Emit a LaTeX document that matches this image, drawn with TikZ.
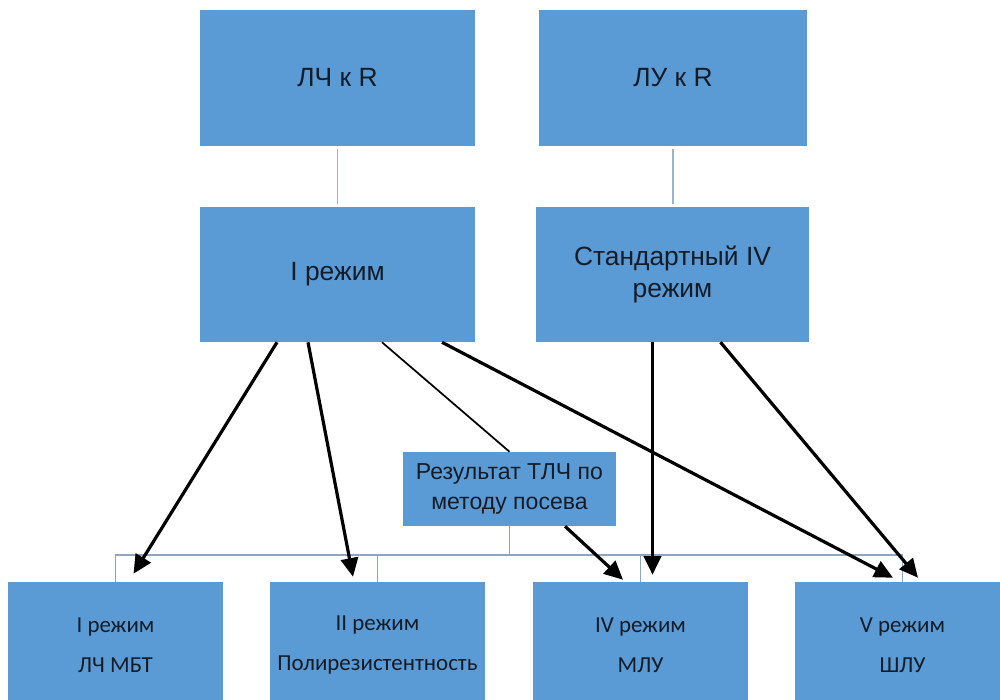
\documentclass[tikz,border=0pt]{standalone}
\usepackage{fontspec}
\setmainfont{Liberation Sans}
\newfontfamily\calib{Carlito}
\usetikzlibrary{arrows.meta,calc}
\definecolor{boxblue}{HTML}{5B9BD5}
\definecolor{txt}{HTML}{141C28}
\definecolor{conn}{HTML}{8DA5BE}
\begin{document}
\begin{tikzpicture}[x=0.75pt,y=-0.75pt,
  bbox/.style={fill=boxblue,draw=none,inner sep=0pt,text=txt,align=center},
  topbox/.style={bbox,font=\fontsize{19.8}{23.5}\selectfont},
  botbox/.style={bbox,minimum width=161.25pt,minimum height=94.5pt,font=\calib\fontsize{17.2}{30}\selectfont},
  tree/.style={draw=conn,line width=1.2pt},
  arr/.style={draw=black,line width=2.4pt,-{Triangle[length=14pt,width=13pt]}},
  thinln/.style={draw=black,line width=1.3pt}]
\useasboundingbox[fill=white] (0,0) rectangle (1000,700);
% top row
\node[topbox,minimum width=206.25pt,minimum height=102pt] (A) at (337.5,78) {ЛЧ к R};
\node[topbox,minimum width=201pt,minimum height=102pt] (B) at (673,78) {ЛУ к R};
% second row
\node[topbox,minimum width=206.25pt,minimum height=101.25pt] (C) at (337.5,274.5) {I режим};
\node[topbox,minimum width=204.75pt,minimum height=101.25pt] (D) at (672.5,274.5) {Стандартный IV\\режим};
% result box
\node[bbox,minimum width=159.75pt,minimum height=55.5pt,font=\fontsize{17.3}{22.5}\selectfont] (E) at (509.5,489) {Результат ТЛЧ по\\методу посева};
% bottom row
\node[botbox] (F1) at (115.5,645) {I режим\\ЛЧ МБТ};
\node[botbox] (F2) at (377.5,645) {II режим\\Полирезистентность};
\node[botbox] (F3) at (640.5,645) {IV режим\\МЛУ};
\node[botbox] (F4) at (902.5,645) {V режим\\ШЛУ};
% vertical links top
\draw[tree,line width=1.4pt,draw=conn!85] ($(A.south)+(0,3)$) -- ($(C.north)+(0,-3)$);
\draw[tree,line width=1.4pt,draw=conn!85] ($(B.south)+(0,3)$) -- ($(B.south |- D.north)+(0,-3)$);
% bracket
\coordinate (bus) at ($(F1.north)+(0,-27)$);
\draw[tree] (F1.north) -- (bus) -| (F4.north);
\draw[tree] (F2.north) -- (F2.north |- bus);
\draw[tree] (F3.north) -- (F3.north |- bus);
\draw[tree] (E.south) -- (E.south |- bus);
% arrows from I режим
\draw[arr] ($(C.south)+(-60.5,0)$) -- ($(F1.north)+(18,-8)$);
\draw[arr] ($(C.south)+(-29.5,0)$) -- ($(F2.north)+(-24.5,-5)$);
\draw[thinln] ($(C.south)+(44.5,0)$) -- (E.north);
\draw[arr] ($(C.south)+(104.5,0)$) -- ($(F4.north)+(-9.5,-4)$);
% arrows from Стандартный
\draw[arr] ($(D.south)+(-20,0)$) -- ($(F3.north)+(12,-7)$);
\draw[arr] ($(D.south)+(48,0)$) -- ($(F4.north)+(15.5,-4)$);
% arrow from result
\draw[arr] ($(E.south)+(55.5,0)$) -- ($(F3.north)+(-17.5,-2)$);
\end{tikzpicture}
\end{document}
